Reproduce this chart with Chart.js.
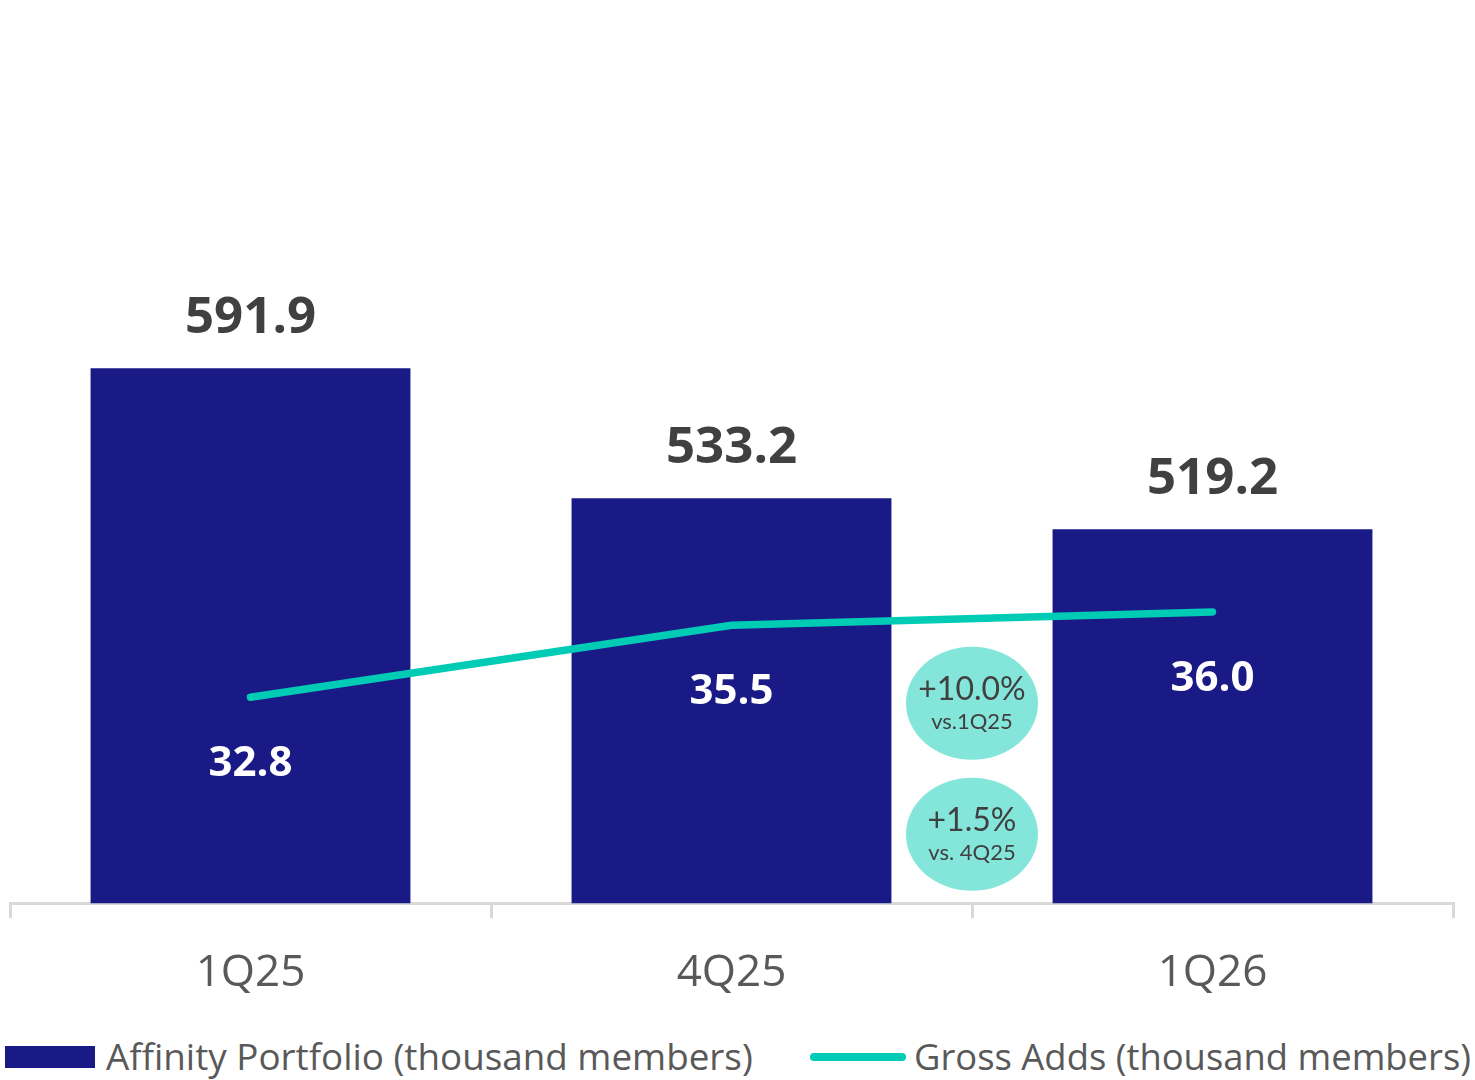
<!DOCTYPE html>
<html>
<head>
<meta charset="utf-8">
<script src="https://cdn.jsdelivr.net/npm/chart.js@4/dist/chart.umd.min.js"></script>
<style>
    html, body { margin: 0; padding: 0; background: #ffffff; }
    #wrap { position: relative; width: 1475px; height: 1080px; }
    #chartBox { position: absolute; left: 0; top: 0; width: 1475px; height: 1029px; }
    #legend { position: absolute; left: 0; top: 1033px; width: 1475px; height: 46px;
        font-family: "Open Sans", sans-serif; font-size: 36.8px; color: #595959; }
    .item { position: absolute; top: 0; white-space: nowrap; line-height: 46px; }
    .swatch { position: absolute; }
</style>
</head>
<body>
<div id="wrap">
    <div id="chartBox"><canvas id="mainChart"></canvas></div>
    <div id="legend">
        <span class="swatch" style="left:5px; top:13px; width:90px; height:22px; background:#1a1a87;"></span>
        <span class="item" id="lbl0" style="left:106px;"></span>
        <span class="swatch" style="left:810px; top:20px; width:96px; height:8px; border-radius:4px; background:#00ccb6;"></span>
        <span class="item" id="lbl1" style="left:914px; font-size:36.4px;"></span>
    </div>
</div>
<script>
//-- Data
const quarters = ["1Q25", "4Q25", "1Q26"];
const portfolio = [591.9, 533.2, 519.2];
const grossAdds = [32.8, 35.5, 36.0];
const portfolioName = "Affinity Portfolio (thousand members)";
const grossAddsName = "Gross Adds (thousand members)";
const bubbleTop = ["+10.0%", "vs.1Q25"];
const bubbleBottom = ["+1.5%", "vs. 4Q25"];

//-- Colours
const navy = "#1a1a87";
const teal = "#00ccb6";
const paleTeal = "#84e6da";
const darkText = "#404040";
const greyText = "#595959";

document.getElementById("lbl0").textContent = portfolioName;
document.getElementById("lbl1").textContent = grossAddsName;

//Value labels above the bars and under the line points
var valueLabels = {
    id: "valueLabels",
    afterDatasetsDraw: function(chart) {
        let ctx = chart.ctx;
        ctx.save();
        ctx.textAlign = "center";
        ctx.textBaseline = "middle";

        let bars = chart.getDatasetMeta(1).data;
        ctx.fillStyle = darkText;
        ctx.font = "bold 51px 'Open Sans'";
        for (let i = 0; i < bars.length; i++) {
            ctx.fillText(portfolio[i].toFixed(1), bars[i].x, bars[i].y - 50);
        }

        let pts = chart.getDatasetMeta(0).data;
        ctx.fillStyle = "#ffffff";
        ctx.font = "bold 42px 'Open Sans'";
        for (let i = 0; i < pts.length; i++) {
            ctx.fillText(grossAdds[i].toFixed(1), pts[i].x, pts[i].y + 67);
        }
        ctx.restore();
    }
};

//The two growth bubbles between 4Q25 and 1Q26
var bubbles = {
    id: "bubbles",
    afterDatasetsDraw: function(chart) {
        let ctx = chart.ctx;
        let xs = chart.scales.x;
        let cx = (xs.getPixelForValue(1) + xs.getPixelForValue(2)) / 2;
        let base = chart.chartArea.bottom;
        let drawOne = function(cy, texts) {
            ctx.beginPath();
            ctx.ellipse(cx, cy, 66, 56.5, 0, 0, Math.PI * 2);
            ctx.fillStyle = paleTeal;
            ctx.fill();
            ctx.fillStyle = darkText;
            ctx.textAlign = "center";
            ctx.textBaseline = "middle";
            ctx.font = "32px Lato";
            ctx.fillText(texts[0], cx, cy - 14);
            ctx.font = "22px Lato";
            ctx.fillText(texts[1], cx, cy + 19);
        };
        ctx.save();
        drawOne(base - 200, bubbleTop);
        drawOne(base - 69, bubbleBottom);
        ctx.restore();
    }
};

var chart = new Chart(document.getElementById("mainChart"), {
    type: "bar",
    data: {
        labels: quarters,
        datasets: [{
            type: "line",
            label: grossAddsName,
            data: grossAdds,
            yAxisID: "y2",
            borderColor: teal,
            borderWidth: 7.5,
            pointRadius: 0,
            tension: 0,
            borderCapStyle: "round",
            order: 0
        }, {
            type: "bar",
            label: portfolioName,
            data: portfolio,
            yAxisID: "y",
            backgroundColor: navy,
            categoryPercentage: 1,
            barPercentage: 0.665,
            order: 1
        }]
    },
    options: {
        responsive: true,
        maintainAspectRatio: false,
        animation: false,
        layout: { padding: { left: 10, right: 22, top: 0, bottom: 0 } },
        plugins: {
            legend: { display: false },
            tooltip: { enabled: false }
        },
        scales: {
            x: {
                grid: { display: true, drawOnChartArea: false, offset: true, color: "#d9d9d9", lineWidth: 3, tickLength: 15 },
                border: { display: true, color: "#d9d9d9", width: 3 },
                ticks: { color: greyText, font: { family: "'Open Sans'", size: 44 }, padding: 29 }
            },
            y: { display: false, min: 350.4, max: 758.1 },
            y2: { display: false, min: 25.08, max: 58.94 }
        }
    },
    plugins: [valueLabels, bubbles]
});
</script>
</body>
</html>
